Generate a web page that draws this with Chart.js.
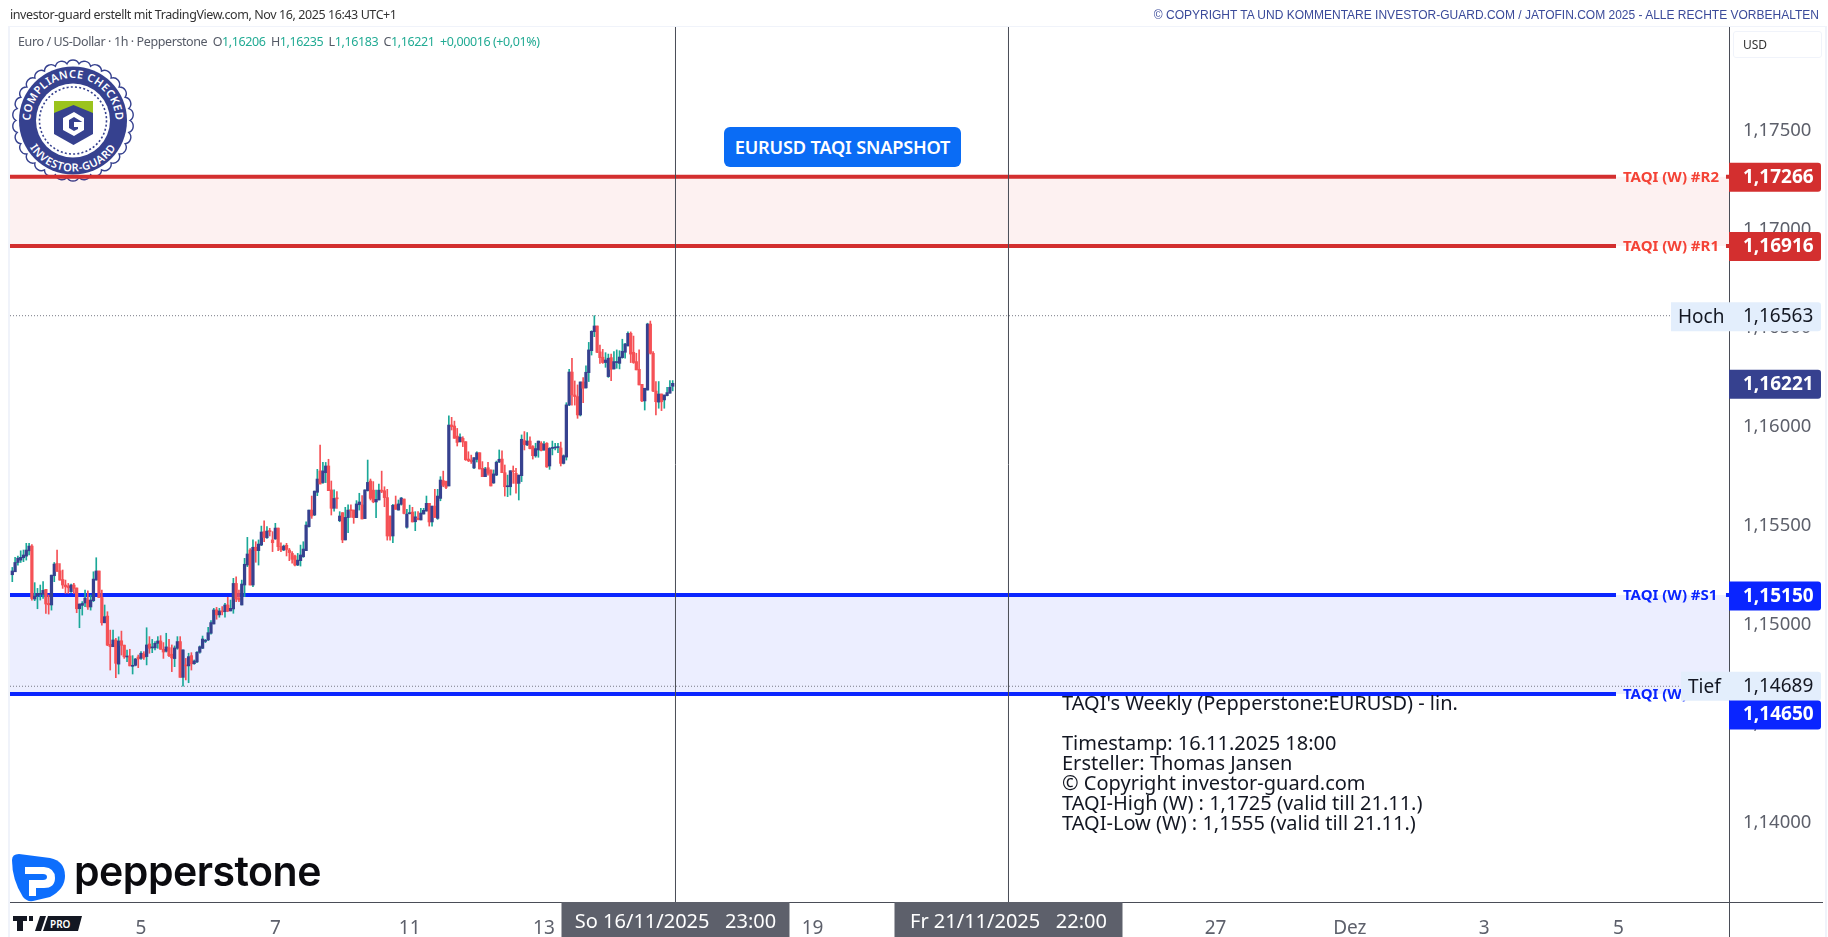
<!DOCTYPE html>
<html lang="de">
<head>
<meta charset="utf-8">
<title>EURUSD TAQI Snapshot</title>
<script src="https://cdn.jsdelivr.net/npm/chart.js@4"></script>
<style>
html, body { margin: 0; padding: 0; background: #fff; width: 1828px; height: 937px; overflow: hidden; }
#logos { position: absolute; left: 0; top: 0; z-index: 0; }
#chart { position: absolute; left: 0; top: 0; z-index: 1; }
.t { position: absolute; z-index: 2; white-space: nowrap; }
#head1 { left: 10px; top: 7px; font: 12.5px/16px "Noto Sans", sans-serif; color: #333; letter-spacing: -0.42px; }
#head2 { right: 9px; top: 7px; font: 12px/16px "Liberation Sans", sans-serif; color: #3a4a9a; }
#legend { left: 18px; top: 34px; font: 12.5px/16px "Noto Sans", sans-serif; color: #555a66; letter-spacing: -0.4px; }
#legend b { font-weight: 400; color: #22ab94; }
#legend span { margin-left: 5.4px; }
#pill { left: 724px; top: 127px; width: 237px; height: 40px; background: #0a6cf5; border-radius: 6px; color: #fff; text-align: center; font: 600 18.2px/40px "Noto Sans", sans-serif; letter-spacing: -0.2px; }
#note { left: 1062px; top: 693px; font: 20px/20px "Noto Sans", sans-serif; color: #131722; }
#usd { left: 1733px; top: 31px; width: 87px; height: 25px; border: 1px solid #f0f3fa; border-radius: 3px; font: 12px/25px "Noto Sans", sans-serif; color: #333; text-indent: 9px; }
#pepper { left: 74px; top: 846px; font: 600 41px/50px Inter, sans-serif; color: #0b0b0f; letter-spacing: -0.5px; }
</style>
</head>
<body>
<svg id="logos" width="1828" height="937" xmlns="http://www.w3.org/2000/svg">
  <defs>
    <path id="arcTop" d="M 30.5 120.5 A 42.5 42.5 0 0 1 115.5 120.5"/>
    <path id="arcBot" d="M 22 120.5 A 51 51 0 0 0 124 120.5"/>
  </defs>
  <path id="scallop" fill="#fff" stroke="#36418f" stroke-width="1.4"/>
  <circle cx="73" cy="120.5" r="54" fill="#36418f"/>
  <circle cx="73" cy="120.5" r="37" fill="#fff"/>
  <circle cx="73" cy="120.5" r="33.5" fill="none" stroke="#36418f" stroke-width="1.6" stroke-dasharray="2 2.2"/>
  <text font-family="Noto Sans" font-weight="600" font-size="11" fill="#fff" letter-spacing="0.5"><textPath href="#arcTop" startOffset="50%" text-anchor="middle">COMPLIANCE CHECKED</textPath></text>
  <text font-family="Noto Sans" font-weight="600" font-size="11" fill="#fff" letter-spacing="0.5"><textPath href="#arcBot" startOffset="50%" text-anchor="middle">INVESTOR-GUARD</textPath></text>
  <path d="M54 101 H93 V134 L73.5 145 L54 134 Z" fill="#36418f"/>
  <path d="M54 101 H93 V113 L73.5 105 L54 113 Z" fill="#9bc31c"/>
  <path d="M84 118 L74 112 L63 118 V130 L74 136 L84 130 V122 H74 V127 H78 V129 L74 131 L69 128 V120 L74 117 L84 123 Z" fill="#fff"/>
  <path d="M12 860 Q12 854 19 854 L50 858 Q65 861 65 876 Q65 889 50 897 L33 901 Q27 902 23 897 Q12 880 12 860 Z" fill="#0d6efd"/>
  <path d="M25 867 H44 Q55 868 55 878 Q55 888 44 888 H36 V896 H29 V880 H43 Q47 880 47 877 Q47 874 43 874 H25 Z" fill="#fff"/>
  <path d="M13 916 H27 V921 H23 V931 H17 V921 H13 Z M29 916 H33 V921 H29 Z" fill="#131722"/>
  <path d="M35 931 L40 916 H46 L41 931 Z" fill="#131722"/>
  <path d="M48 916 H82 L78 931 H43 Z" fill="#131722"/>
  <text x="50" y="928" font-family="Noto Sans" font-size="10" font-weight="600" fill="#fff">PRO</text>
</svg>
<canvas id="chart" width="1828" height="937"></canvas>
<div class="t" id="head1">investor-guard erstellt mit TradingView.com, Nov 16, 2025 16:43 UTC+1</div>
<div class="t" id="head2">© COPYRIGHT TA UND KOMMENTARE INVESTOR-GUARD.COM / JATOFIN.COM 2025 - ALLE RECHTE VORBEHALTEN</div>
<div class="t" id="legend">Euro / US-Dollar · 1h · Pepperstone<span>O<b>1,16206</b></span><span>H<b>1,16235</b></span><span>L<b>1,16183</b></span><span>C<b>1,16221</b></span><span><b>+0,00016 (+0,01%)</b></span></div>
<div class="t" id="pill">EURUSD TAQI SNAPSHOT</div>
<div class="t" id="note">TAQI's Weekly (Pepperstone:EURUSD) - lin.<br><br>Timestamp: 16.11.2025 18:00<br>Ersteller: Thomas Jansen<br>© Copyright investor-guard.com<br>TAQI-High (W) : 1,1725 (valid till 21.11.)<br>TAQI-Low (W) : 1,1555 (valid till 21.11.)</div>
<div class="t" id="usd">USD</div>
<div class="t" id="pepper">pepperstone</div>
<script>
// EURUSD 1h candles
const opens = [
1.15253,1.15268,1.15315,1.15327,1.15339,1.15347,1.15374,1.15398,1.15130,1.15145,
1.15154,1.15154,1.15179,1.15108,1.15100,1.15248,1.15310,1.15273,1.15229,1.15201,
1.15196,1.15167,1.15201,1.15186,1.15081,1.15098,1.15110,1.15125,1.15090,1.15122,
1.15226,1.15272,1.15138,1.15010,1.15044,1.14901,1.14889,1.14923,1.14801,1.14919,
1.14897,1.14837,1.14842,1.14790,1.14795,1.14837,1.14830,1.14852,1.14839,1.14903,
1.14883,1.14883,1.14906,1.14918,1.14876,1.14866,1.14884,1.14851,1.14829,1.14881,
1.14915,1.14734,1.14797,1.14792,1.14844,1.14803,1.14812,1.14861,1.14881,1.14916,
1.14923,1.14957,1.15004,1.15075,1.15050,1.15066,1.15066,1.15100,1.15070,1.15080,
1.15209,1.15134,1.15100,1.15201,1.15302,1.15378,1.15201,1.15392,1.15375,1.15403,
1.15471,1.15440,1.15474,1.15429,1.15434,1.15489,1.15395,1.15378,1.15402,1.15378,
1.15361,1.15348,1.15302,1.15324,1.15344,1.15375,1.15496,1.15580,1.15555,1.15670,
1.15778,1.15719,1.15769,1.15803,1.15682,1.15589,1.15639,1.15526,1.15567,1.15429,
1.15542,1.15580,1.15580,1.15542,1.15607,1.15606,1.15537,1.15678,1.15727,1.15681,
1.15621,1.15631,1.15681,1.15678,1.15643,1.15550,1.15449,1.15607,1.15580,1.15609,
1.15636,1.15493,1.15562,1.15570,1.15521,1.15538,1.15530,1.15560,1.15575,1.15614,
1.15520,1.15600,1.15538,1.15639,1.15729,1.15725,1.15702,1.16010,1.16005,1.15954,
1.15926,1.15943,1.15926,1.15838,1.15833,1.15793,1.15836,1.15870,1.15791,1.15749,
1.15794,1.15783,1.15717,1.15757,1.15823,1.15838,1.15769,1.15698,1.15698,1.15779,
1.15766,1.15715,1.15754,1.15931,1.15909,1.15929,1.15901,1.15854,1.15884,1.15918,
1.15884,1.15918,1.15803,1.15892,1.15894,1.15896,1.15894,1.15816,1.15848,1.16111,
1.16278,1.16162,1.16154,1.16061,1.16228,1.16198,1.16275,1.16386,1.16482,1.16511,
1.16380,1.16353,1.16326,1.16255,1.16351,1.16294,1.16326,1.16322,1.16351,1.16378,
1.16410,1.16474,1.16378,1.16331,1.16292,1.16216,1.16132,1.16187,1.16521,1.16373,
1.16182,1.16126,1.16167,1.16137,1.16159,1.16171,1.16206];
const highs = [
1.15290,1.15341,1.15347,1.15374,1.15378,1.15412,1.15412,1.15405,1.15213,1.15184,
1.15201,1.15218,1.15179,1.15150,1.15251,1.15315,1.15378,1.15310,1.15277,1.15226,
1.15209,1.15206,1.15209,1.15186,1.15105,1.15117,1.15176,1.15172,1.15150,1.15268,
1.15339,1.15272,1.15176,1.15100,1.15066,1.14973,1.14973,1.14931,1.14939,1.14968,
1.14897,1.14872,1.14876,1.14844,1.14830,1.14847,1.14864,1.14864,1.14985,1.14940,
1.14926,1.14915,1.14940,1.14945,1.14910,1.14957,1.14926,1.14898,1.14893,1.14940,
1.14940,1.14873,1.14830,1.14856,1.14859,1.14822,1.14864,1.14893,1.14943,1.14926,
1.14987,1.15021,1.15083,1.15088,1.15083,1.15092,1.15109,1.15139,1.15125,1.15235,
1.15243,1.15176,1.15226,1.15336,1.15442,1.15385,1.15429,1.15420,1.15429,1.15499,
1.15525,1.15496,1.15488,1.15471,1.15513,1.15489,1.15415,1.15403,1.15412,1.15386,
1.15370,1.15353,1.15361,1.15403,1.15420,1.15521,1.15580,1.15651,1.15676,1.15786,
1.15909,1.15821,1.15821,1.15837,1.15727,1.15682,1.15673,1.15572,1.15567,1.15594,
1.15606,1.15606,1.15580,1.15628,1.15665,1.15653,1.15682,1.15833,1.15737,1.15724,
1.15681,1.15712,1.15777,1.15698,1.15685,1.15550,1.15609,1.15651,1.15631,1.15644,
1.15636,1.15584,1.15605,1.15594,1.15572,1.15572,1.15589,1.15589,1.15651,1.15614,
1.15600,1.15685,1.15685,1.15749,1.15777,1.15727,1.16056,1.16049,1.16030,1.15993,
1.15965,1.15951,1.15926,1.15875,1.15858,1.15845,1.15875,1.15870,1.15825,1.15796,
1.15821,1.15783,1.15783,1.15828,1.15884,1.15879,1.15808,1.15757,1.15779,1.15803,
1.15791,1.15757,1.15960,1.15977,1.15972,1.15951,1.15906,1.15918,1.15929,1.15926,
1.15926,1.15921,1.15896,1.15929,1.15918,1.15918,1.15924,1.15859,1.16123,1.16292,
1.16348,1.16233,1.16213,1.16228,1.16250,1.16309,1.16428,1.16487,1.16563,1.16511,
1.16415,1.16393,1.16376,1.16369,1.16369,1.16381,1.16390,1.16386,1.16444,1.16423,
1.16481,1.16481,1.16460,1.16373,1.16390,1.16216,1.16196,1.16525,1.16536,1.16381,
1.16230,1.16230,1.16167,1.16162,1.16201,1.16235,1.16235];
const lows = [
1.15218,1.15268,1.15302,1.15315,1.15319,1.15327,1.15353,1.15125,1.15122,1.15081,
1.15125,1.15133,1.15057,1.15054,1.15074,1.15218,1.15270,1.15226,1.15184,1.15159,
1.15159,1.15164,1.15159,1.15061,1.14985,1.15049,1.15091,1.15078,1.15074,1.15117,
1.15226,1.15137,1.14998,1.15010,1.14894,1.14771,1.14889,1.14732,1.14751,1.14847,
1.14830,1.14813,1.14792,1.14751,1.14792,1.14783,1.14825,1.14825,1.14797,1.14856,
1.14859,1.14873,1.14881,1.14876,1.14830,1.14862,1.14839,1.14763,1.14788,1.14876,
1.14734,1.14689,1.14721,1.14707,1.14771,1.14800,1.14808,1.14856,1.14879,1.14910,
1.14920,1.14953,1.15004,1.15028,1.15038,1.15050,1.15038,1.15066,1.15070,1.15058,
1.15117,1.15117,1.15100,1.15142,1.15294,1.15201,1.15193,1.15316,1.15302,1.15400,
1.15420,1.15437,1.15449,1.15370,1.15432,1.15375,1.15370,1.15375,1.15348,1.15324,
1.15311,1.15297,1.15299,1.15297,1.15341,1.15375,1.15493,1.15538,1.15552,1.15653,
1.15712,1.15715,1.15719,1.15678,1.15555,1.15575,1.15589,1.15521,1.15415,1.15429,
1.15466,1.15543,1.15513,1.15542,1.15580,1.15535,1.15537,1.15676,1.15631,1.15617,
1.15541,1.15631,1.15668,1.15597,1.15428,1.15428,1.15415,1.15584,1.15580,1.15605,
1.15560,1.15489,1.15560,1.15520,1.15476,1.15530,1.15530,1.15560,1.15575,1.15499,
1.15499,1.15543,1.15533,1.15627,1.15698,1.15688,1.15702,1.15985,1.15943,1.15904,
1.15924,1.15901,1.15831,1.15825,1.15816,1.15789,1.15823,1.15788,1.15749,1.15749,
1.15757,1.15702,1.15715,1.15754,1.15820,1.15769,1.15651,1.15648,1.15656,1.15715,
1.15665,1.15631,1.15724,1.15884,1.15906,1.15889,1.15838,1.15847,1.15847,1.15879,
1.15882,1.15796,1.15786,1.15859,1.15884,1.15870,1.15803,1.15813,1.15833,1.16108,
1.16111,1.16111,1.16044,1.16056,1.16123,1.16196,1.16230,1.16364,1.16457,1.16376,
1.16322,1.16322,1.16302,1.16251,1.16235,1.16292,1.16297,1.16294,1.16348,1.16348,
1.16410,1.16326,1.16322,1.16289,1.16213,1.16128,1.16086,1.16187,1.16369,1.16179,
1.16061,1.16095,1.16083,1.16095,1.16157,1.16171,1.16183];
const closes = [
1.15272,1.15315,1.15337,1.15341,1.15353,1.15378,1.15398,1.15133,1.15145,1.15159,
1.15159,1.15174,1.15105,1.15101,1.15251,1.15307,1.15270,1.15226,1.15201,1.15192,
1.15187,1.15201,1.15184,1.15081,1.15105,1.15108,1.15135,1.15090,1.15125,1.15231,
1.15272,1.15137,1.15010,1.15041,1.14897,1.14889,1.14923,1.14805,1.14918,1.14896,
1.14838,1.14840,1.14792,1.14795,1.14827,1.14827,1.14856,1.14835,1.14898,1.14881,
1.14886,1.14906,1.14918,1.14876,1.14862,1.14888,1.14844,1.14832,1.14883,1.14915,
1.14734,1.14873,1.14792,1.14839,1.14802,1.14817,1.14861,1.14889,1.14928,1.14921,
1.14960,1.15011,1.15075,1.15050,1.15070,1.15065,1.15100,1.15070,1.15083,1.15209,
1.15130,1.15125,1.15206,1.15306,1.15358,1.15201,1.15392,1.15375,1.15408,1.15469,
1.15442,1.15474,1.15471,1.15415,1.15489,1.15395,1.15378,1.15398,1.15381,1.15365,
1.15331,1.15302,1.15327,1.15353,1.15383,1.15504,1.15580,1.15550,1.15676,1.15737,
1.15712,1.15778,1.15803,1.15678,1.15589,1.15639,1.15637,1.15550,1.15429,1.15543,
1.15580,1.15577,1.15542,1.15611,1.15621,1.15535,1.15682,1.15720,1.15639,1.15622,
1.15634,1.15681,1.15675,1.15643,1.15449,1.15449,1.15604,1.15584,1.15611,1.15641,
1.15563,1.15560,1.15563,1.15520,1.15546,1.15533,1.15565,1.15579,1.15614,1.15520,
1.15600,1.15543,1.15651,1.15732,1.15705,1.15695,1.16010,1.16002,1.15943,1.15922,
1.15949,1.15924,1.15835,1.15830,1.15825,1.15845,1.15870,1.15788,1.15749,1.15788,
1.15766,1.15702,1.15763,1.15822,1.15837,1.15769,1.15698,1.15702,1.15779,1.15774,
1.15715,1.15757,1.15938,1.15911,1.15929,1.15891,1.15855,1.15891,1.15929,1.15881,
1.15914,1.15798,1.15892,1.15896,1.15897,1.15899,1.15816,1.15855,1.16112,1.16278,
1.16162,1.16154,1.16061,1.16228,1.16196,1.16277,1.16390,1.16484,1.16511,1.16378,
1.16351,1.16326,1.16339,1.16348,1.16292,1.16331,1.16327,1.16354,1.16383,1.16420,
1.16474,1.16369,1.16326,1.16289,1.16213,1.16132,1.16196,1.16521,1.16373,1.16182,
1.16128,1.16167,1.16128,1.16162,1.16174,1.16201,1.16221];

// TAQI levels
const levelNames = ["TAQI (W) #R2", "TAQI (W) #R1", "TAQI (W) #S1", "TAQI (W) #S2"];
const levelValues = [1.17266, 1.16916, 1.1515, 1.1465];
const high = 1.16563;
const low = 1.14689;
const lastPrice = 1.16221;

// x axis, in bar numbers
const tickBars = [46, 94, 142, 190, 286, 430, 478, 526, 574];
const tickNames = ["5", "7", "11", "13", "19", "27", "Dez", "3", "5"];
const cursorBars = [237, 356];
const cursorNames = ["So 16/11/2025   23:00", "Fr 21/11/2025   22:00"];

const xMin = -0.822, xMax = 613.48;
const yMin = 1.13598, yMax = 1.18023;
const labelBar = 573.1, tailBar = 612.4;

const UP = "#36418f", WICK_UP = "#1aa898", DOWN = "#f55156";
const RED = "#d32f2f", BLUE = "#0a25ff", GREY = "#5d606b";
const fmt = v => v.toFixed(5).replace(".", ",");

// scalloped edge of the seal
(function () {
  let d = "";
  const n = 30, cx = 73, cy = 120.5, r = 57;
  for (let i = 0; i <= n; i++) {
    const a = i / n * Math.PI * 2;
    const x = (cx + r * Math.cos(a)).toFixed(1), y = (cy + r * Math.sin(a)).toFixed(1);
    d += i === 0 ? `M${x} ${y}` : ` A6.6 6.6 0 0 1 ${x} ${y}`;
  }
  document.getElementById("scallop").setAttribute("d", d + "Z");
})();

const bars = opens.map((o, i) => i);
const isUp = i => closes[i] >= opens[i];

function levelLine(v, color) {
  return {
    type: "line", order: 3, data: [{x: xMin, y: v}, {x: labelBar, y: v}, {x: 600, y: null}, {x: tailBar, y: v}, {x: xMax, y: v}],
    borderColor: color, borderWidth: 4, pointRadius: 0, spanGaps: false, fill: false
  };
}
function band(top, bottom, color) {
  return {
    type: "line", order: 5, data: [{x: xMin, y: top}, {x: xMax, y: top}],
    borderWidth: 0, pointRadius: 0, fill: {target: {value: bottom}, above: color, below: color}
  };
}
function dotted(v, endBar) {
  return {
    type: "line", order: 4, data: [{x: xMin, y: v}, {x: endBar, y: v}],
    borderColor: "#787b86", borderWidth: 1, borderDash: [1, 2], pointRadius: 0, fill: false
  };
}
function cursorLine(b) {
  return {
    type: "line", order: 2, data: [{x: b, y: yMin}, {x: b, y: yMax}],
    borderColor: "#4a4d57", borderWidth: 1, pointRadius: 0, fill: false
  };
}

// price badges, line labels and the time badges on the axes
const overlays = {
  id: "overlays",
  afterDraw(chart) {
    const c = chart.ctx, y = chart.scales.y, x = chart.scales.x, a = chart.chartArea;
    c.save();
    // frame
    c.fillStyle = "#f0f3fa";
    c.fillRect(8, 26, 1820 - 8 + 5, 1);
    c.fillRect(8, 26, 2, 911);
    c.fillRect(1825, 26, 2, 911);
    c.fillStyle = "#4a4d57";
    c.fillRect(a.left, a.bottom, 1823 - a.left, 1);
    c.fillRect(a.right, a.top, 1, 937 - a.top);

    c.textBaseline = "middle";
    levelNames.forEach((name, i) => {
      c.fillStyle = i < 2 ? "#f44336" : BLUE;
      c.font = "bold 15px 'Noto Sans'";
      c.textAlign = "left";
      c.fillText(name, 1623, y.getPixelForValue(levelValues[i]) + 1);
    });

    const badge = (v, dy, bg, fg, left, name) => {
      const cy = y.getPixelForValue(v) + dy;
      c.fillStyle = bg;
      c.beginPath();
      c.roundRect(left, cy - 14.5, 1821 - left, 29, [0, 3, 3, 0]);
      c.fill();
      c.fillStyle = fg;
      c.textAlign = "left";
      if (name) {
        c.font = "19px 'Noto Sans'";
        c.fillText(name, left + 7, cy + 1);
      }
      c.font = (name ? "" : "bold ") + "19px 'Noto Sans'";
      c.fillText(fmt(v), 1743, cy);
    };
    badge(high, 1, "#e3eefc", "#131722", 1671, "Hoch");
    badge(low, 0, "#e3eefc", "#131722", 1681, "Tief");
    badge(levelValues[0], 0.5, RED, "#fff", a.right);
    badge(levelValues[1], 0.5, RED, "#fff", a.right);
    badge(levelValues[2], 1, BLUE, "#fff", a.right);
    badge(levelValues[3], 21, BLUE, "#fff", a.right);
    badge(lastPrice, 1, UP, "#fff", a.right);

    cursorBars.forEach((b, i) => {
      const cx = x.getPixelForValue(b);
      c.fillStyle = "#5d606b";
      c.fillRect(cx - 114, a.bottom, 228, 937 - a.bottom);
      c.fillStyle = "#fff";
      c.font = "20px 'Noto Sans'";
      c.textAlign = "center";
      c.fillText(cursorNames[i], cx, 922);
    });
    c.restore();
  }
};

new Chart(document.getElementById("chart"), {
  type: "bar",
  data: {
    datasets: [
      {
        order: 0, grouped: false, barThickness: 2.6, minBarLength: 1,
        data: bars.map(i => ({x: i, y: [opens[i], closes[i]]})),
        backgroundColor: bars.map(i => isUp(i) ? UP : DOWN)
      },
      {
        order: 1, grouped: false, barThickness: 1,
        data: bars.map(i => ({x: i, y: [lows[i], highs[i]]})),
        backgroundColor: bars.map(i => isUp(i) ? WICK_UP : DOWN)
      },
      cursorLine(cursorBars[0]),
      cursorLine(cursorBars[1]),
      levelLine(levelValues[0], RED),
      levelLine(levelValues[1], RED),
      levelLine(levelValues[2], BLUE),
      levelLine(levelValues[3], BLUE),
      dotted(high, 598),
      dotted(low, 597),
      band(levelValues[0], levelValues[1], "rgba(229,57,53,0.07)"),
      band(levelValues[2], levelValues[3], "rgba(10,37,255,0.08)")
    ]
  },
  options: {
    responsive: false,
    animation: false,
    devicePixelRatio: 1,
    layout: {padding: {left: 10, top: 27, right: 0, bottom: 0}},
    plugins: {legend: {display: false}, tooltip: {enabled: false}},
    scales: {
      x: {
        type: "linear", offset: false, min: xMin, max: xMax,
        grid: {display: false}, border: {display: false},
        afterBuildTicks: s => { s.ticks = tickBars.map(v => ({value: v})); },
        afterFit: s => { s.height = 35; },
        ticks: {
          autoSkip: false, maxRotation: 0, padding: 7, color: GREY,
          font: {family: "'Noto Sans'", size: 19},
          callback: v => tickNames[tickBars.indexOf(v)]
        }
      },
      y: {
        position: "right", min: yMin, max: yMax, beginAtZero: false,
        grid: {display: false, drawTicks: false}, border: {display: false},
        afterBuildTicks: s => { s.ticks = s.ticks.filter(t => t.value >= 1.139 && t.value <= 1.176); },
        afterFit: s => { s.width = 99; },
        ticks: {
          stepSize: 0.005, padding: 14, color: GREY, crossAlign: "near",
          font: {family: "'Noto Sans'", size: 18.5},
          callback: v => fmt(v)
        }
      }
    }
  },
  plugins: [overlays]
});
</script>
</body>
</html>
